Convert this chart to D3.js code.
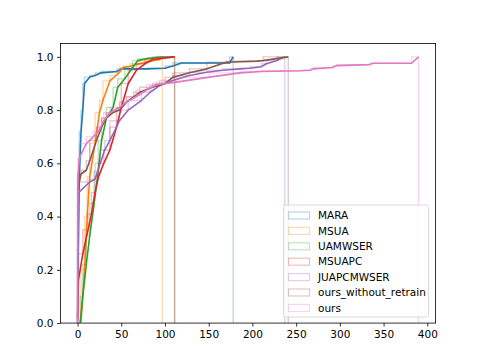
<!DOCTYPE html>
<html>
<head>
<meta charset="utf-8">
<script src="https://cdn.jsdelivr.net/npm/d3@7"></script>
<style>
  body { margin: 0; background: #fff; }
  svg { display: block; font-family: "DejaVu Sans", sans-serif; }
</style>
</head>
<body>
<div id="chart"></div>
<script>
// Series names (legend order) and colours
var names = ["MARA", "MSUA", "UAMWSER", "MSUAPC", "JUAPCMWSER", "ours_without_retrain", "ours"];
var colors = ["#1f77b4", "#ff7f0e", "#2ca02c", "#d62728", "#9467bd", "#8c564b", "#e377c2"];

// Cumulative curves: [value, fraction]
var mara = [[0, 0.02], [1, 0.3], [2, 0.55], [4, 0.72], [6, 0.8], [8, 0.9], [14, 0.924], [20, 0.93],
  [27, 0.94], [45, 0.945], [50, 0.955], [80, 0.955], [100, 0.957], [109, 0.966], [119, 0.977],
  [174, 0.977], [178, 1.0]];
var msua = [[4, 0.005], [8, 0.2], [11, 0.4], [14, 0.55], [20, 0.675], [25, 0.79], [29, 0.836],
  [37, 0.91], [44, 0.93], [48, 0.942], [52, 0.96], [60, 0.965], [71, 0.974], [85, 0.985],
  [94, 0.99], [97, 1.0]];
var uamwser = [[3, 0.0], [6, 0.1], [10, 0.22], [14, 0.33], [19, 0.45], [23.6, 0.57], [27.5, 0.686],
  [33, 0.77], [40.7, 0.81], [46, 0.886], [54, 0.918], [63, 0.96], [69, 0.986], [79, 0.993],
  [90, 0.997], [111, 1.0]];
var msuapc = [[0, 0.01], [1, 0.16], [6, 0.26], [12, 0.35], [16, 0.41], [20, 0.49], [24, 0.55],
  [30, 0.6], [37, 0.65], [44.6, 0.736], [50, 0.81], [58, 0.9], [67.5, 0.95], [77, 0.974],
  [86, 0.99], [111, 1.0]];
var juapcmwser = [[0, 0.48], [1, 0.49], [14, 0.53], [20, 0.54], [26, 0.6], [31, 0.65], [37, 0.686],
  [48, 0.76], [58, 0.8], [73, 0.836], [83, 0.867], [94, 0.892], [109, 0.911], [128, 0.93],
  [148, 0.942], [166, 0.95], [186, 0.955], [197, 0.957], [210, 0.963], [216, 0.974],
  [228, 0.986], [237, 1.0]];
var oursWithoutRetrain = [[0, 0.5], [4, 0.56], [10, 0.574], [14, 0.61], [21.7, 0.686], [27.5, 0.736],
  [33, 0.77], [40, 0.79], [48, 0.8], [56, 0.83], [64, 0.85], [71, 0.867], [86, 0.886], [100, 0.9],
  [109, 0.923], [128, 0.94], [148, 0.955], [170, 0.98], [205, 0.984], [212, 0.986], [241, 1.0]];
var ours = [[0, 0.0], [0.5, 0.55], [2, 0.62], [10, 0.674], [18, 0.7], [24, 0.72], [30, 0.76],
  [37, 0.79], [48, 0.81], [56, 0.83], [67, 0.85], [79, 0.875], [90, 0.895], [113, 0.905],
  [151, 0.924], [186, 0.94], [210, 0.945], [255, 0.948], [266, 0.95], [270, 0.955], [292, 0.96],
  [296, 0.967], [334, 0.971], [338, 0.976], [382, 0.976], [390, 1.0]];

var seriesData = [mara, msua, uamwser, msuapc, juapcmwser, oursWithoutRetrain, ours];

var xTicks = [0, 50, 100, 150, 200, 250, 300, 350, 400];
var yTicks = [0.0, 0.2, 0.4, 0.6, 0.8, 1.0];

// Figure geometry (matplotlib default subplot params)
var W = 484, H = 363;
var box = { left: 60.5, right: 435.6, top: 43.56, bottom: 323.07 };

var svg = d3.select("#chart").append("svg").attr("width", W).attr("height", H);

var xMin = d3.min(seriesData, s => d3.min(s, d => d[0]));
var xMax = d3.max(seriesData, s => d3.max(s, d => d[0]));
var pad = (xMax - xMin) * 0.05;

var x = d3.scaleLinear().domain([xMin - pad, xMax + pad]).range([box.left, box.right]);
var y = d3.scaleLinear().domain([0, 1.05]).range([box.bottom, box.top]);

var defs = svg.append("defs");
defs.append("clipPath").attr("id", "clip")
  .append("rect").attr("x", box.left).attr("y", box.top)
  .attr("width", box.right - box.left).attr("height", box.bottom - box.top);

var plot = svg.append("g").attr("clip-path", "url(#clip)");

// stepped outline like a cumulative step histogram
var stepLine = d3.line().x(d => x(d[0])).y(d => y(d[1])).curve(d3.curveStepBefore);
var solidLine = d3.line().x(d => x(d[0])).y(d => y(d[1]));

seriesData.forEach(function(s, i) {
  var first = s[0], last = s[s.length - 1];
  var outline = [[first[0], 0]].concat(s, [[last[0], 0]]);
  plot.append("path")
    .attr("d", stepLine(outline))
    .attr("fill", "none")
    .attr("stroke", colors[i])
    .attr("stroke-opacity", 0.3)
    .attr("stroke-width", 1.4);
  plot.append("path")
    .attr("d", solidLine(s))
    .attr("fill", "none")
    .attr("stroke", colors[i])
    .attr("stroke-width", 1.6)
    .attr("stroke-linejoin", "round");
});

// axes
var xAxis = d3.axisBottom(x).tickValues(xTicks).tickSize(3.5).tickPadding(3.5).tickFormat(d3.format("d"));
var yAxis = d3.axisLeft(y).tickValues(yTicks).tickSize(3.5).tickPadding(3.5).tickFormat(d3.format(".1f"));

var gx = svg.append("g").attr("transform", "translate(0," + box.bottom + ")").call(xAxis);
var gy = svg.append("g").attr("transform", "translate(" + box.left + ",0)").call(yAxis);
[gx, gy].forEach(function(g) {
  g.select(".domain").remove();
  g.selectAll("line").attr("stroke", "#000").attr("stroke-width", 0.8);
  g.selectAll("text").attr("fill", "#000").style("font-size", "10.5px").style("font-family", "DejaVu Sans");
});

svg.append("rect")
  .attr("x", box.left).attr("y", box.top)
  .attr("width", box.right - box.left).attr("height", box.bottom - box.top)
  .attr("fill", "none").attr("stroke", "#000").attr("stroke-width", 0.8);

// legend
var lg = svg.append("g").attr("transform", "translate(283.5,205)");
lg.append("rect")
  .attr("width", 145).attr("height", 112).attr("rx", 2.5)
  .attr("fill", "#fff").attr("fill-opacity", 0.8)
  .attr("stroke", "#d0d0d0").attr("stroke-width", 0.8);

var item = lg.selectAll(".item").data(names).enter().append("g")
  .attr("transform", (d, i) => "translate(0," + (10.5 + i * 15.4) + ")");
item.append("rect")
  .attr("x", 5).attr("y", -3.5).attr("width", 21).attr("height", 7)
  .attr("fill", "none")
  .attr("stroke", (d, i) => colors[i]).attr("stroke-opacity", 0.3).attr("stroke-width", 1.2);
item.append("text")
  .attr("x", 34.5).attr("y", 0).attr("dy", "0.36em")
  .style("font-size", "10.5px")
  .attr("fill", "#000")
  .text(d => d);
</script>
</body>
</html>
